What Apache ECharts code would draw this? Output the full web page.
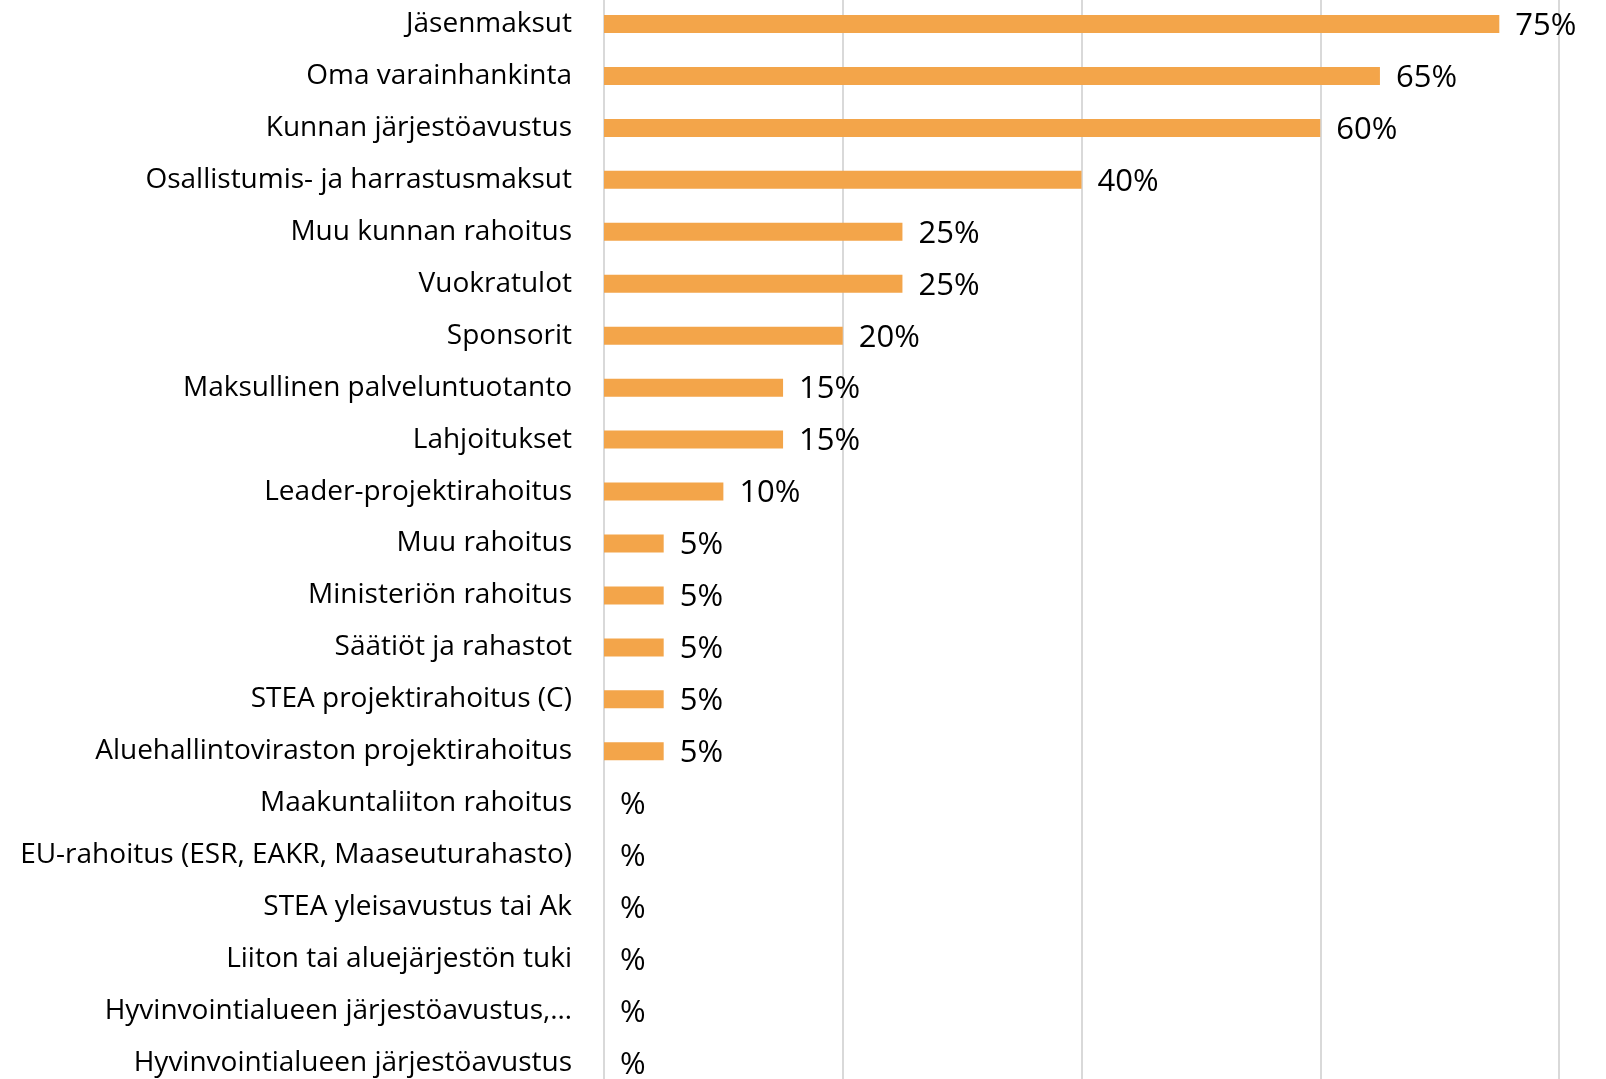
<!DOCTYPE html>
<html>
<head>
<meta charset="utf-8">
<script src="https://cdn.jsdelivr.net/npm/echarts@6/dist/echarts.min.js"></script>
<style>
  html, body { margin: 0; padding: 0; background: #fff; overflow: hidden; }
  /* plot area runs slightly past the picture edges, as in the original crop */
  #chart { width: 1606px; height: 1091px; margin-top: -2px; }
</style>
</head>
<body>
<div id="chart"></div>
<script>
// rahoituslähteet, ylhäältä alas
const categories = [
  "Jäsenmaksut",
  "Oma varainhankinta",
  "Kunnan järjestöavustus",
  "Osallistumis- ja harrastusmaksut",
  "Muu kunnan rahoitus",
  "Vuokratulot",
  "Sponsorit",
  "Maksullinen palveluntuotanto",
  "Lahjoitukset",
  "Leader-projektirahoitus",
  "Muu rahoitus",
  "Ministeriön rahoitus",
  "Säätiöt ja rahastot",
  "STEA projektirahoitus (C)",
  "Aluehallintoviraston projektirahoitus",
  "Maakuntaliiton rahoitus",
  "EU-rahoitus (ESR, EAKR, Maaseuturahasto)",
  "STEA yleisavustus tai Ak",
  "Liiton tai aluejärjestön tuki",
  "Hyvinvointialueen järjestöavustus,…",
  "Hyvinvointialueen järjestöavustus"
];
const shares = [75, 65, 60, 40, 25, 25, 20, 15, 15, 10, 5, 5, 5, 5, 5, 0, 0, 0, 0, 0, 0];
const xMax = 80;
const xStep = 20;

const fontFamily = "'Open Sans', 'Noto Sans', sans-serif";
const chart = echarts.init(document.getElementById("chart"), null, { renderer: "canvas" });

chart.setOption({
  animation: false,
  backgroundColor: "#ffffff",
  grid: { left: 604, right: 47, top: 0, bottom: 0, containLabel: false },
  xAxis: {
    type: "value",
    min: 0,
    max: xMax,
    interval: xStep,
    axisLabel: { show: false },
    axisLine: { show: false },
    axisTick: { show: false },
    splitLine: { show: true, lineStyle: { color: "#d9d9d9", width: 2 } }
  },
  yAxis: {
    type: "category",
    inverse: true,
    data: categories,
    axisLine: { show: true, lineStyle: { color: "#d9d9d9", width: 2 } },
    axisTick: { show: false },
    axisLabel: {
      margin: 32,
      color: "#000",
      fontSize: 28,
      fontFamily: fontFamily
    }
  },
  series: [{
    type: "bar",
    data: shares,
    barWidth: 18,
    itemStyle: { color: "#F3A54A" },
    label: {
      show: true,
      position: "right",
      distance: 16,
      offset: [0, 2],
      color: "#000",
      fontSize: 31,
      fontFamily: fontFamily,
      formatter: p => (p.value > 0 ? p.value : "") + "%"
    }
  }]
});
</script>
</body>
</html>
